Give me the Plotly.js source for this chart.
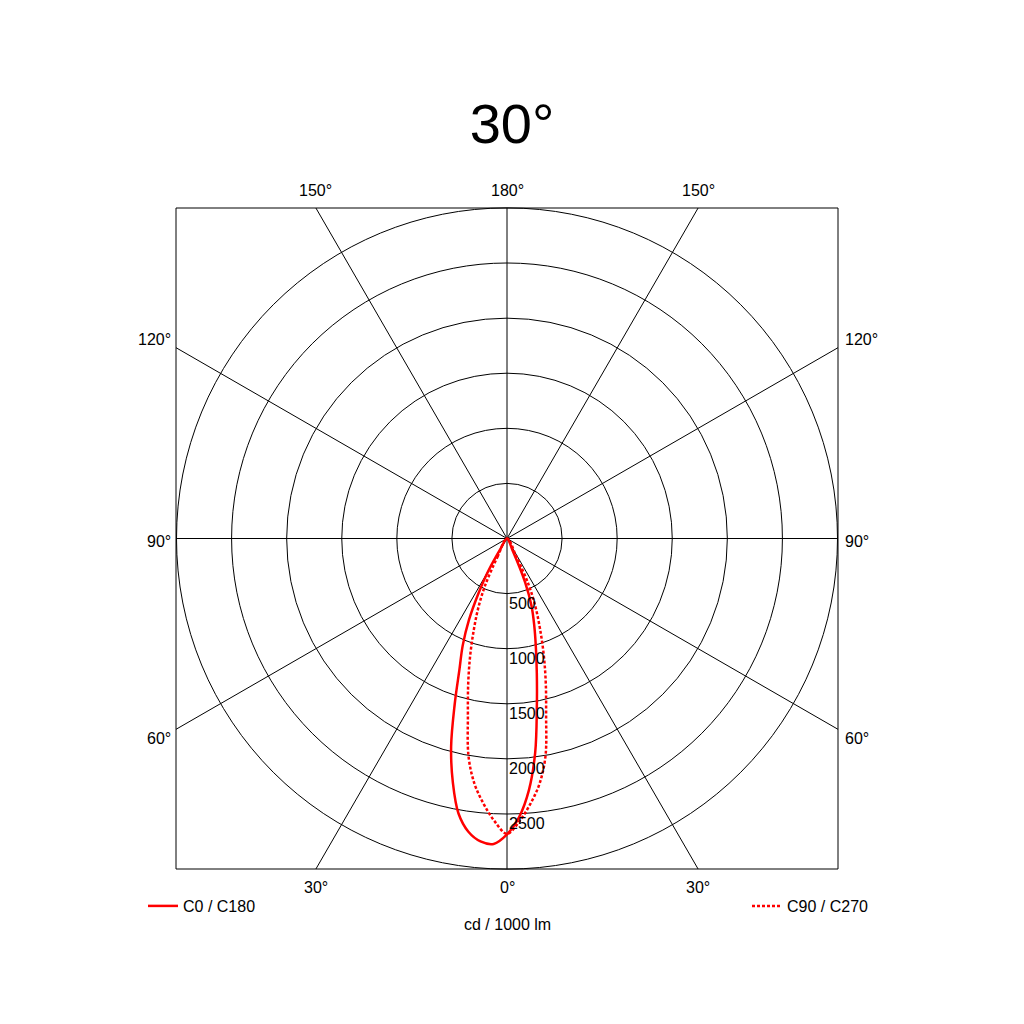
<!DOCTYPE html>
<html><head><meta charset="utf-8">
<script src="https://cdn.plot.ly/plotly-3.0.1.min.js"></script>
<style>html,body{margin:0;padding:0;background:#fff}</style>
</head><body><div id="chart" style="width:1024px;height:1024px"></div>
<script>
// ---- data ----
const chartTitle = "30°";
const unitLabel = "cd / 1000 lm";
const seriesNames = ["C0 / C180", "C90 / C270"];
const gamma = [0, 2.5, 5, 7.5, 10, 12.5, 15, 17.5, 20, 22.5, 25, 27.5, 30, 32.5, 35];
const c0   = [2686, 2530, 2290, 1960, 1560, 1250, 1010, 820, 650, 430, 120, 0, 0, 0, 0];
const c180 = [2686, 2775, 2760, 2685, 2535, 2270, 1960, 1580, 1260, 1050, 820, 560, 340, 100, 0];
const c90  = [2680, 2570, 2420, 2250, 2010, 1640, 1360, 1110, 880, 680, 470, 180, 0, 0, 0];
const c270 = [2680, 2570, 2420, 2250, 2010, 1640, 1360, 1110, 880, 680, 470, 180, 0, 0, 0];
const radialTicks = [500, 1000, 1500, 2000, 2500];
const radialMax = 3000;
const angleTicks = [0, 30, 60, 90, 120, 150, 180];

// ---- layout geometry ----
const W = 1024, H = 1024;
const M = {l: 176, r: 186, t: 208, b: 155};
const PW = W - M.l - M.r, PH = H - M.t - M.b;
const px2x = px => (px - M.l) / PW;
const py2y = py => (H - M.b - py) / PH;
const FONT = "Liberation Sans, Arial, sans-serif";
const FS = 16;

// join the two half planes into one closed lobe (stop at the first zero on each side)
function fullPlane(neg, pos) {
  const lastIdx = arr => { const k = arr.indexOf(0); return k < 0 ? arr.length - 1 : k; };
  const nN = lastIdx(neg), nP = lastIdx(pos);
  const th = [], r = [];
  for (let i = nN; i >= 0; i--) { th.push(-gamma[i]); r.push(neg[i]); }
  for (let i = 1; i <= nP; i++) { th.push(gamma[i]); r.push(pos[i]); }
  return {th, r};
}
const solid = fullPlane(c180, c0);
const dotted = fullPlane(c270, c90);

const traces = [
  {type: 'scatterpolar', mode: 'lines', name: seriesNames[0], theta: solid.th, r: solid.r,
   line: {color: '#ff0000', width: 2.5, shape: 'spline', smoothing: 1}, legend: 'legend', hoverinfo: 'skip'},
  {type: 'scatterpolar', mode: 'lines', name: seriesNames[1], theta: dotted.th, r: dotted.r,
   line: {color: '#ff0000', width: 2.5, dash: '3px,2px', shape: 'spline', smoothing: 1}, legend: 'legend2', hoverinfo: 'skip'}
];

// spokes every 30 deg from centre to the square frame
const shapes = [{type: 'rect', xref: 'paper', yref: 'paper', x0: 0, x1: 1, y0: 0, y1: 1,
  line: {color: '#000', width: 1}, layer: 'below'}];
for (let a = 0; a < 360; a += 30) {
  const p = a * Math.PI / 180, dx = Math.sin(p), dy = Math.cos(p);
  const t = 0.5 / Math.max(Math.abs(dx), Math.abs(dy));
  shapes.push({type: 'line', xref: 'paper', yref: 'paper', x0: 0.5, y0: 0.5,
    x1: 0.5 + t * dx, y1: 0.5 - t * dy, line: {color: '#000', width: 1}, layer: 'below'});
}

const annotations = [];
// angle labels around the frame
angleTicks.forEach(a => {
  const sides = (a === 0 || a === 180) ? [1] : [-1, 1];
  sides.forEach(s => {
    const p = a * Math.PI / 180, dx = s * Math.sin(p), dy = Math.cos(p);
    const t = 0.5 / Math.max(Math.abs(dx), Math.abs(dy));
    const ex = 0.5 + t * dx, ey = 0.5 - t * dy;
    const ann = {text: a + '°', showarrow: false, xref: 'paper', yref: 'paper',
      font: {family: FONT, size: FS, color: '#000'}};
    if (a <= 30 || a >= 150) {
      ann.x = ex; ann.xanchor = 'center';
      if (ey > 0.5) { ann.y = 1; ann.yanchor = 'bottom'; ann.yshift = 7; }
      else { ann.y = 0; ann.yanchor = 'top'; ann.yshift = -8; }
    } else {
      ann.y = ey;
      if (s < 0) { ann.x = 0; ann.xanchor = 'right'; ann.xshift = -3; }
      else { ann.x = 1; ann.xanchor = 'left'; ann.xshift = 5; }
      if (a === 90) { ann.yanchor = 'middle'; ann.yshift = -3; }
      else if (a > 90) { ann.yanchor = 'bottom'; ann.yshift = -2; }
      else { ann.yanchor = 'top'; ann.yshift = 1; }
    }
    annotations.push(ann);
  });
});
// radial value labels below the 0-degree spoke
radialTicks.forEach(v => {
  annotations.push({text: String(v), showarrow: false, xref: 'paper', yref: 'paper',
    x: 0.5, xanchor: 'left', xshift: 0, y: 0.5 - 0.5 * v / radialMax, yanchor: 'top', yshift: 1,
    font: {family: FONT, size: FS, color: '#000'}});
});
annotations.push({text: unitLabel, showarrow: false, xref: 'paper', yref: 'paper',
  x: 0.5, xanchor: 'center', y: py2y(924), yanchor: 'middle',
  font: {family: FONT, size: FS, color: '#000'}});

const layout = {
  width: W, height: H, margin: M, paper_bgcolor: '#fff', showlegend: true,
  font: {family: FONT, size: FS, color: '#000'},
  title: {text: chartTitle, font: {family: FONT, size: 56, color: '#000'},
    xref: 'container', x: 0.5, xanchor: 'center', yref: 'container', y: 1 - 123 / H, yanchor: 'middle'},
  polar: {
    domain: {x: [0, 1], y: [0, 1]}, bgcolor: 'rgba(0,0,0,0)',
    radialaxis: {range: [0, radialMax], tickvals: radialTicks, showticklabels: false, ticks: '',
      showline: false, showgrid: true, gridcolor: '#000', gridwidth: 1, angle: -90},
    angularaxis: {rotation: -90, direction: 'counterclockwise', showgrid: false, showticklabels: false,
      ticks: '', showline: true, linecolor: '#000', linewidth: 1}
  },
  legend: {x: px2x(143), xanchor: 'left', y: py2y(906), yanchor: 'middle', bgcolor: 'rgba(0,0,0,0)',
    font: {family: FONT, size: FS, color: '#000'}},
  legend2: {x: px2x(747), xanchor: 'left', y: py2y(906), yanchor: 'middle', bgcolor: 'rgba(0,0,0,0)',
    font: {family: FONT, size: FS, color: '#000'}},
  shapes: shapes, annotations: annotations
};
Plotly.newPlot('chart', traces, layout, {displayModeBar: false, staticPlot: true});
</script></body></html>
